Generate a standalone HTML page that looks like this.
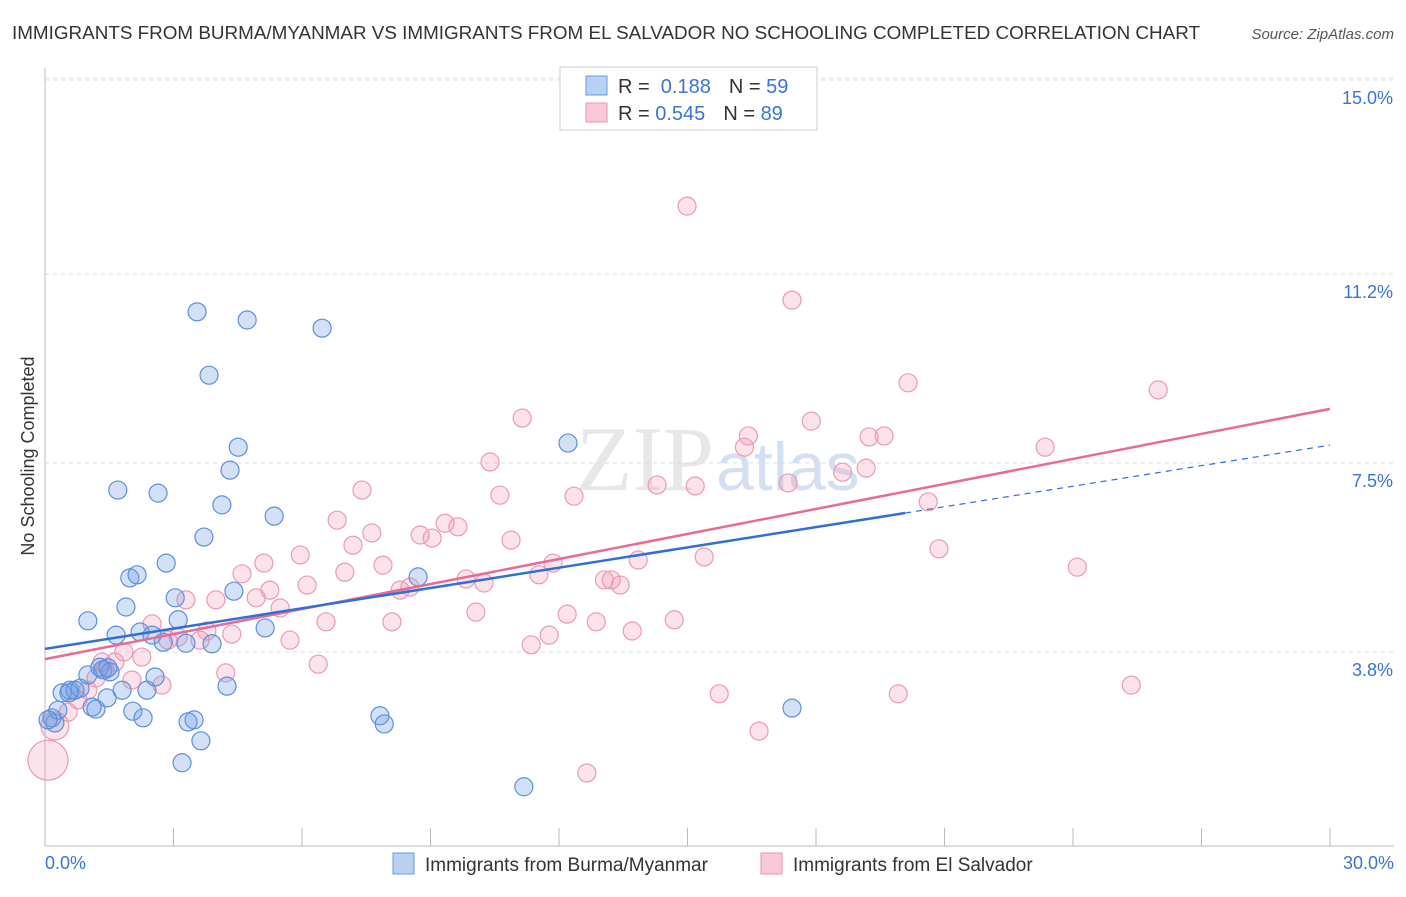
<!DOCTYPE html>
<html><head><meta charset="utf-8"><style>
body{margin:0;background:#fff;font-family:"Liberation Sans",sans-serif}
</style></head><body>
<svg id="c" width="1406" height="892" xmlns="http://www.w3.org/2000/svg">
<text x="12" y="39" font-size="18" fill="#333" textLength="1188" lengthAdjust="spacingAndGlyphs">IMMIGRANTS FROM BURMA/MYANMAR VS IMMIGRANTS FROM EL SALVADOR NO SCHOOLING COMPLETED CORRELATION CHART</text>
<text x="1394" y="39" font-size="15" fill="#555" text-anchor="end" font-style="italic">Source: ZipAtlas.com</text>
<text transform="translate(34,456) rotate(-90)" font-size="18" fill="#333" text-anchor="middle">No Schooling Completed</text>
<text x="714" y="490" font-size="92" fill="#d8d8d8" text-anchor="end" font-family="Liberation Serif" opacity="0.6">ZIP</text>
<text x="716" y="490" font-size="68" fill="#b8cdea" opacity="0.6">atlas</text>
<g id="grid"></g><g id="marks"></g>
<g>
<rect x="560" y="67" width="257" height="63" fill="#fff" stroke="#ccc"/>
<rect x="586" y="76" width="21" height="19" fill="#b9d0f3" stroke="#6a9ae0"/>
<rect x="586" y="103" width="21" height="19" fill="#f9c9d9" stroke="#ec93b0"/>
<text x="618" y="93" font-size="20" fill="#333">R = <tspan fill="#3a73d6">&#160;0.188</tspan><tspan dx="18" fill="#333">N = </tspan><tspan fill="#3a73d6">59</tspan></text>
<text x="618" y="120" font-size="20" fill="#333">R = <tspan fill="#3a73d6">0.545</tspan><tspan dx="18" fill="#333">N = </tspan><tspan fill="#3a73d6">89</tspan></text>
</g>
<g>
<rect x="393" y="853" width="21" height="21" fill="#b9d0f3" stroke="#6a9ae0"/>
<text x="425" y="871" font-size="19" fill="#333">Immigrants from Burma/Myanmar</text>
<rect x="761" y="853" width="21" height="21" fill="#f9c9d9" stroke="#ec93b0"/>
<text x="793" y="871" font-size="19" fill="#333">Immigrants from El Salvador</text>
</g>
</svg>
<script>
const yTicks=[3.8,7.5,11.2,15.0];
const yTickLabels=["3.8%","7.5%","11.2%","15.0%"];
const xTicks=[0,3,6,9,12,15,18,21,24,27,30];
const blueX=[0.16,0.23,0.30,0.40,0.58,0.70,0.82,1.00,1.10,1.19,1.28,1.35,1.45,1.52,1.70,1.80,1.89,1.66,1.98,2.15,2.05,2.29,2.22,2.38,2.50,2.57,2.64,2.76,2.83,3.04,3.11,3.20,3.29,3.34,3.48,3.55,3.64,3.71,3.83,3.90,4.13,4.25,4.32,4.41,4.51,4.72,5.14,5.35,6.47,7.82,7.92,8.71,11.18,12.21,17.44,1.00,0.07,0.56,1.47];
const blueY=[2.51,2.41,2.66,3.00,3.05,3.05,3.09,3.35,2.72,2.68,3.50,3.45,2.90,3.41,6.97,3.05,4.68,4.13,5.25,5.31,2.64,2.51,4.19,3.05,4.13,3.31,6.91,3.99,5.54,4.86,4.43,1.63,3.97,2.43,2.47,10.46,2.06,6.05,9.22,3.96,6.68,3.13,7.36,4.99,7.81,10.30,4.27,6.46,10.14,2.55,2.39,5.27,1.16,7.89,2.70,4.41,2.47,3.00,3.49];
const pinkX=[0.07,0.23,0.54,0.77,1.00,1.19,1.40,1.63,1.84,2.03,2.26,2.50,2.73,2.87,3.11,3.29,3.62,3.78,3.99,4.22,4.36,4.60,4.93,5.11,5.25,5.49,5.72,5.96,6.12,6.38,6.56,6.82,7.00,7.19,7.40,7.63,7.89,8.10,8.29,8.52,8.76,9.04,9.34,9.64,9.83,10.06,10.25,10.39,10.62,10.88,11.14,11.35,11.53,11.77,11.86,12.19,12.35,12.65,12.87,13.06,13.22,13.43,13.71,13.85,14.29,14.69,14.99,15.18,15.39,15.74,16.33,16.42,16.67,17.35,17.44,17.89,18.62,19.17,19.24,19.59,19.92,20.15,20.62,20.87,23.35,24.10,25.36,25.99,1.33];
const pinkY=[1.68,2.35,2.62,2.86,3.05,3.29,3.45,3.60,3.80,3.25,3.70,4.35,3.15,4.03,4.09,4.82,4.03,4.21,4.82,3.39,4.15,5.33,4.86,5.54,5.01,4.66,4.03,5.70,5.11,3.56,4.39,6.38,5.36,5.89,6.97,6.13,5.50,4.39,5.01,5.07,6.09,6.03,6.32,6.25,5.23,4.58,5.15,7.52,6.87,5.99,8.38,3.94,5.31,4.13,5.54,4.54,6.85,1.43,4.39,5.21,5.21,5.11,4.21,5.60,7.07,4.43,12.53,7.05,5.66,2.98,7.81,8.03,2.25,7.11,10.69,8.32,7.32,7.40,8.01,8.03,2.98,9.07,6.74,5.82,7.81,5.46,3.15,8.93,3.60];
const pinkR=[20,14];
const blueLine=[3.86,6.52,7.85];
const blueLineX=[0,20.08,30];
const pinkLine=[3.66,8.56];
const pinkLineX=[0,30];
const X=v=>45+v/30*1285, Y=v=>846-v/3.75*191.5;
const NS="http://www.w3.org/2000/svg";
const gridG=document.getElementById('grid'), marksG=document.getElementById('marks');
function mk(tag,at,parent){const e=document.createElementNS(NS,tag);for(const k in at)e.setAttribute(k,at[k]);parent.appendChild(e);return e;}
const ax=mk('line',{x1:45,y1:68,x2:45,y2:846,stroke:'#bbb'},gridG);


const bx=mk('line',{x1:45,y1:846,x2:1394,y2:846,stroke:'#bbb'},gridG);


yTicks.forEach((t,i)=>{
 const g=mk('line',{x1:45,y1:Y(t),x2:1394,y2:Y(t),stroke:'#ddd','stroke-dasharray':'4,4'},gridG);
 
 
 const tx=mk('text',{x:1393,y:Y(t)+24,'font-size':18,fill:'#3a73d6','text-anchor':'end'},gridG);
 tx.textContent=yTickLabels[i];
 
 
});
const topLine=mk('line',{x1:45,y1:78,x2:1394,y2:78,stroke:'#ddd','stroke-dasharray':'4,4'},gridG);


xTicks.forEach(t=>{
 const l=mk('line',{x1:X(t),y1:828,x2:X(t),y2:846,stroke:'#bbb'},gridG);
 
 
});
const xl0=mk('text',{x:45,y:869,'font-size':18,fill:'#3a73d6'},gridG);xl0.textContent='0.0%';


const xl1=mk('text',{x:1394,y:869,'font-size':18,fill:'#3a73d6','text-anchor':'end'},gridG);xl1.textContent='30.0%';


pinkX.forEach((v,i)=>{
 const c=mk('circle',{cx:X(v),cy:Y(pinkY[i]),r:pinkR[i]||9,fill:'rgba(244,150,180,0.28)',stroke:'#eb9ab5','stroke-width':1.2},marksG);
 
 
});
blueX.forEach((v,i)=>{
 const c=mk('circle',{cx:X(v),cy:Y(blueY[i]),r:9,fill:'rgba(110,155,230,0.3)',stroke:'#5d8fdc','stroke-width':1.2},marksG);
 
 
});
const pl=mk('line',{x1:X(pinkLineX[0]),y1:Y(pinkLine[0]),x2:X(pinkLineX[1]),y2:Y(pinkLine[1]),stroke:'#e66b97','stroke-width':2.5},marksG);


const bl=mk('line',{x1:X(blueLineX[0]),y1:Y(blueLine[0]),x2:X(blueLineX[1]),y2:Y(blueLine[1]),stroke:'#2f6fd6','stroke-width':2.5},marksG);


const bd=mk('line',{x1:X(blueLineX[1]),y1:Y(blueLine[1]),x2:X(blueLineX[2]),y2:Y(blueLine[2]),stroke:'#2f6fd6','stroke-width':1.2,'stroke-dasharray':'6,5'},marksG);


</script>
</body></html>
